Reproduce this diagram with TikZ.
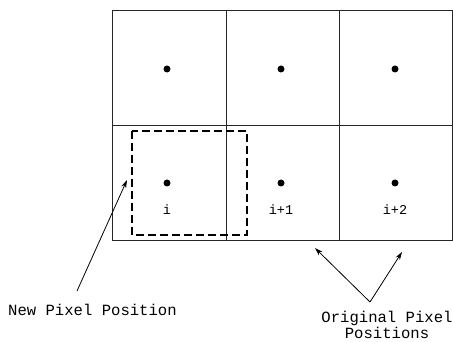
\documentclass[tikz,border=0pt]{standalone}
\usepackage{fontspec}
\setmonofont{Liberation Mono}
\usetikzlibrary{arrows.meta}
\begin{document}
\begin{tikzpicture}[x=1pt,y=-1pt,
  gridline/.style={line width=0.8pt, draw=black!85},
  pdot/.style={circle, fill=black, inner sep=0pt, minimum size=7pt},
  plabel/.style={font=\ttfamily\fontsize{13.5}{13.5}\selectfont, inner sep=0pt},
  caption/.style={font=\ttfamily\fontsize{15.6}{16.5}\selectfont, inner sep=0pt, align=center},
  dashbox/.style={line width=1.6pt, dash pattern=on 8pt off 4pt},
  pointer/.style={line width=0.8pt, -{Stealth[length=8pt,width=5pt]}}]
\useasboundingbox (0,0) rectangle (453,342);
% grid
\draw[gridline] (112,10) rectangle (452,240);
\draw[gridline] (112,125) -- (452,125);
\draw[gridline] (226,10) -- (226,240);
\draw[gridline] (339,10) -- (339,240);
% dots
\node[pdot] (d11) at (167,69) {};
\node[pdot] (d12) at (281,69) {};
\node[pdot] (d13) at (395,69) {};
\node[pdot] (d21) at (167,183) {};
\node[pdot] (d22) at (281,183) {};
\node[pdot] (d23) at (395,183) {};
% labels
\node[plabel] (li) at (167,210) {i};
\node[plabel] (li1) at (281,210) {i+1};
\node[plabel] (li2) at (395,210) {i+2};
% dashed new pixel
\draw[dashbox] (132,131) rectangle (247,235);
% captions
\node[caption, anchor=west] (newp) at (8,310) {New Pixel Position};
\node[caption] (orig) at (387,325) {Original Pixel\\Positions};
\coordinate (t1) at (127,180);
\coordinate (s1) at (77,291);
\draw[pointer] (s1) -- (t1);
\coordinate (apex) at (370,302);
\coordinate (t2) at (315,248);
\coordinate (t3) at (402,252);
\draw[pointer] (apex) -- (t2);
\draw[pointer] (apex) -- (t3);
\end{tikzpicture}
\end{document}
